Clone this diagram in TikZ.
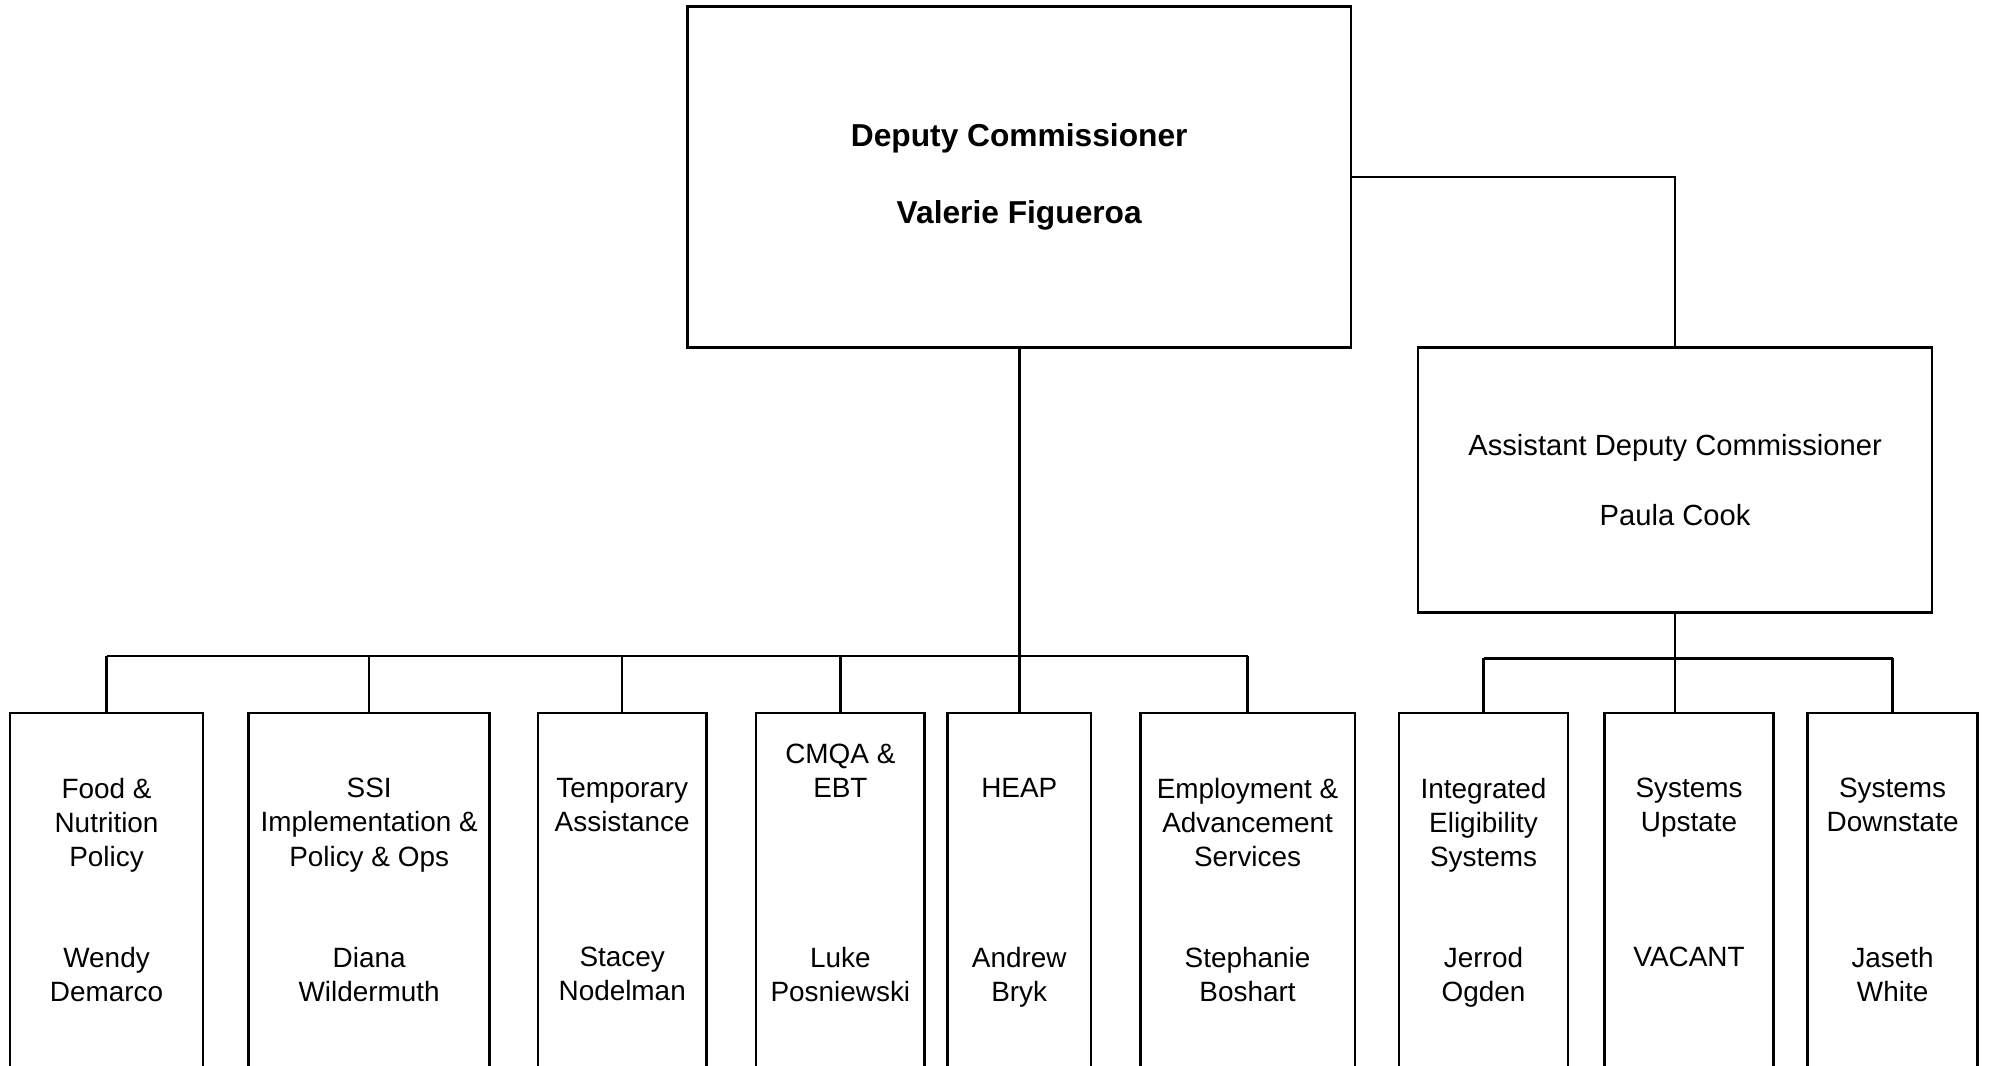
\documentclass[tikz,border=0pt]{standalone}
\usepackage{fontspec}
\setmainfont{Liberation Sans}
\usetikzlibrary{positioning}

\tikzset{
  box/.style={draw, line width=1pt, inner sep=0pt, outer sep=0pt},
  unit/.style={box, anchor=north, minimum height=160pt},
  unittext/.style={font=\fontsize{11}{13.5}\selectfont, align=center, inner sep=0pt},
  link/.style={line width=1pt}
}

\begin{document}
\begin{tikzpicture}[x=0.5pt, y=-0.5pt]
    \useasboundingbox (0,0) rectangle (1568,840);
    \clip (0,0) rectangle (1568,840);
    % Top boxes
    \node[box, minimum width=261.5pt, minimum height=134.5pt,
          font=\bfseries\fontsize{12.5}{15}\selectfont, align=center]
          (dc) at (803.5,139.5) {Deputy Commissioner\\[15.5pt]Valerie Figueroa};
    \node[box, minimum width=202.5pt, minimum height=104.5pt,
          font=\fontsize{11.5}{13.5}\selectfont, align=center]
          (adc) at (1320.5,378.5) {Assistant Deputy Commissioner\\[14pt]Paula Cook};

    % Unit boxes
    \node[unit, minimum width=76pt]   (food) at (84,562) {};
    \node[unit, minimum width=95pt]   (ssi)  at (291,562) {};
    \node[unit, minimum width=66.5pt] (ta)   at (490.5,562) {};
    \node[unit, minimum width=66.5pt] (cmqa) at (662.5,562) {};
    \node[unit, minimum width=56.5pt] (heap) at (803.5,562) {};
    \node[unit, minimum width=84.5pt] (eas)  at (983.5,562) {};
    \node[unit, minimum width=66.5pt] (ies)  at (1169.5,562) {};
    \node[unit, minimum width=66.5pt] (up)   at (1331.5,562) {};
    \node[unit, minimum width=67pt]   (down) at (1492,562) {};

    % Unit names
    \node[unittext, below=25.5pt of food.north] (food-t) {Food \&\\Nutrition\\Policy};
    \node[unittext, below=25.5pt of ssi.north]  (ssi-t)  {SSI\\Implementation \&\\Policy \& Ops};
    \node[unittext, below=25.5pt of ta.north]   (ta-t)   {Temporary\\Assistance};
    \node[unittext, below=12pt of cmqa.north]   (cmqa-t) {CMQA \&\\EBT};
    \node[unittext, below=25.5pt of heap.north] (heap-t) {HEAP};
    \node[unittext, below=25.5pt of eas.north]  (eas-t)  {Employment \&\\Advancement\\Services};
    \node[unittext, below=25.5pt of ies.north]  (ies-t)  {Integrated\\Eligibility\\Systems};
    \node[unittext, below=25.5pt of up.north]   (up-t)   {Systems\\Upstate};
    \node[unittext, below=25.5pt of down.north] (down-t) {Systems\\Downstate};

    % Unit heads
    \node[unittext, below=92pt of food.north] (food-n) {Wendy\\Demarco};
    \node[unittext, below=92pt of ssi.north]  (ssi-n)  {Diana\\Wildermuth};
    \node[unittext, below=92pt of ta.north]   (ta-n)   {Stacey\\Nodelman};
    \node[unittext, below=92pt of cmqa.north] (cmqa-n) {Luke\\Posniewski};
    \node[unittext, below=92pt of heap.north] (heap-n) {Andrew\\Bryk};
    \node[unittext, below=92pt of eas.north]  (eas-n)  {Stephanie\\Boshart};
    \node[unittext, below=92pt of ies.north]  (ies-n)  {Jerrod\\Ogden};
    \node[unittext, below=92pt of up.north]   (up-n)   {VACANT};
    \node[unittext, below=92pt of down.north] (down-n) {Jaseth\\White};

    % Lines
    \coordinate (bar) at (0,517);
    \coordinate (adcbar) at (0,519);
    \draw[link] (dc.south) -- (heap.north);
    \draw[link] (food.north |- bar) -- (eas.north |- bar);
    \foreach \u in {food,ssi,ta,cmqa,eas}
        \draw[link] (\u.north) -- (\u.north |- bar);
    \draw[link] (dc.east) -| (adc.north);
    \draw[link] (adc.south) -- (adc.south |- up.north);
    \draw[link] (ies.north |- adcbar) -- (down.north |- adcbar);
    \foreach \u in {ies,down}
        \draw[link] (\u.north) -- (\u.north |- adcbar);
\end{tikzpicture}
\end{document}
